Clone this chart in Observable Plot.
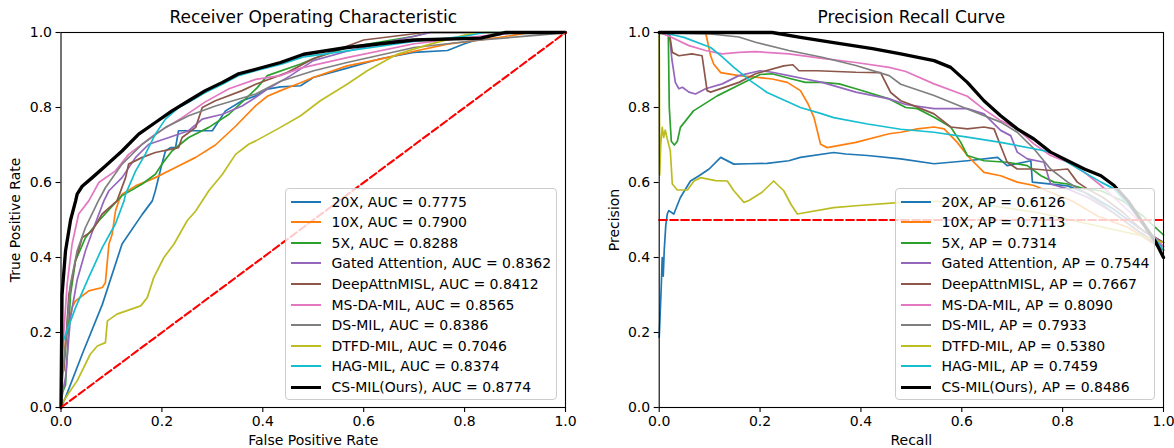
<!DOCTYPE html>
<html>
<head>
<meta charset="utf-8">
<script src="https://cdn.jsdelivr.net/npm/d3@7"></script>
<script src="https://cdn.jsdelivr.net/npm/@observablehq/plot@0.6"></script>
<style>
  html, body { margin: 0; padding: 0; background: #fff; }
  #wrap { position: relative; width: 1174px; height: 448px; font-family: "DejaVu Sans", sans-serif; }
  .panel { position: absolute; top: 0; }
  .legend { position: absolute; background: rgba(255,255,255,0.8); border: 1px solid #cccccc; border-radius: 4px; box-sizing: border-box; }
  .legend .row { position: absolute; left: 0; height: 20px; white-space: nowrap; font-size: 14px; line-height: 20px; color: #000; }
  .legend .sw { position: absolute; top: 10px; width: 30px; }
  .legend .lab { position: absolute; top: 0; }
</style>
</head>
<body>
<div id="wrap">
  <div id="roc" class="panel" style="left:0px"></div>
  <div id="pr" class="panel" style="left:587px"></div>
</div>
<script>
// ---------- data ----------
const methodNames = ["20X", "10X", "5X", "Gated Attention", "DeepAttnMISL", "MS-DA-MIL", "DS-MIL", "DTFD-MIL", "HAG-MIL", "CS-MIL(Ours)"];
const seriesColors = ["#1f77b4", "#ff7f0e", "#2ca02c", "#9467bd", "#8c564b", "#e377c2", "#7f7f7f", "#bcbd22", "#17becf", "#000000"];
const aucValues = [0.7775, 0.7900, 0.8288, 0.8362, 0.8412, 0.8565, 0.8386, 0.7046, 0.8374, 0.8774];
const apValues = [0.6126, 0.7113, 0.7314, 0.7544, 0.7667, 0.8090, 0.7933, 0.5380, 0.7459, 0.8486];
const axisTicks = [0, 0.2, 0.4, 0.6, 0.8, 1.0];

// ROC curves: [FPR, TPR]
const roc20X = [[0,0],[0.009,0.027],[0.042,0.142],[0.082,0.275],[0.121,0.436],[0.161,0.515],[0.181,0.551],[0.187,0.578],[0.2,0.649],[0.207,0.684],[0.217,0.693],[0.227,0.693],[0.233,0.738],[0.30,0.738],[0.326,0.791],[0.359,0.818],[0.386,0.831],[0.409,0.849],[0.435,0.855],[0.475,0.858],[0.50,0.88],[0.567,0.905],[0.633,0.93],[0.699,0.947],[0.766,0.952],[0.80,0.97],[0.846,0.99],[0.90,1.0],[1,1]];
const roc10X = [[0,0],[0.003,0.10],[0.0056,0.107],[0.009,0.18],[0.022,0.267],[0.0287,0.284],[0.055,0.311],[0.082,0.32],[0.088,0.333],[0.095,0.436],[0.1014,0.462],[0.108,0.524],[0.1146,0.551],[0.121,0.569],[0.148,0.591],[0.187,0.613],[0.227,0.64],[0.267,0.667],[0.306,0.70],[0.346,0.75],[0.386,0.805],[0.409,0.83],[0.435,0.845],[0.475,0.866],[0.50,0.88],[0.567,0.911],[0.633,0.929],[0.70,0.95],[0.766,0.969],[0.87,0.987],[0.93,1.0],[1,1]];
const roc5X = [[0,0],[0.003,0.04],[0.009,0.06],[0.0188,0.30],[0.0287,0.391],[0.0485,0.453],[0.075,0.498],[0.111,0.551],[0.121,0.565],[0.161,0.596],[0.187,0.622],[0.2,0.649],[0.22,0.684],[0.253,0.72],[0.293,0.747],[0.333,0.782],[0.372,0.831],[0.389,0.853],[0.409,0.885],[0.475,0.916],[0.50,0.93],[0.567,0.96],[0.70,0.99],[0.73,1.0],[1,1]];
const rocGated = [[0,0],[0.003,0.04],[0.009,0.08],[0.0188,0.24],[0.032,0.34],[0.0485,0.418],[0.065,0.48],[0.085,0.551],[0.095,0.578],[0.121,0.613],[0.148,0.667],[0.174,0.702],[0.214,0.72],[0.253,0.738],[0.28,0.769],[0.32,0.782],[0.359,0.804],[0.386,0.827],[0.409,0.849],[0.455,0.885],[0.50,0.925],[0.567,0.95],[0.633,0.97],[0.733,1.0],[1,1]];
const rocDeep = [[0,0],[0.002,0.093],[0.0056,0.098],[0.009,0.16],[0.0155,0.30],[0.0287,0.391],[0.042,0.453],[0.0618,0.471],[0.0816,0.516],[0.111,0.551],[0.128,0.613],[0.134,0.649],[0.161,0.667],[0.187,0.68],[0.233,0.693],[0.24,0.72],[0.267,0.747],[0.28,0.80],[0.306,0.818],[0.359,0.845],[0.386,0.862],[0.448,0.893],[0.50,0.93],[0.60,0.98],[0.72,1.0],[1,1]];
const rocMSDA = [[0,0],[0.002,0.1],[0.0056,0.2],[0.0122,0.329],[0.022,0.436],[0.035,0.516],[0.055,0.551],[0.075,0.60],[0.108,0.631],[0.134,0.675],[0.187,0.729],[0.24,0.773],[0.286,0.815],[0.333,0.85],[0.386,0.875],[0.435,0.885],[0.475,0.905],[0.567,0.933],[0.70,0.97],[0.83,0.99],[0.9,1.0],[1,1]];
const rocDS = [[0,0],[0.003,0.08],[0.009,0.169],[0.0188,0.329],[0.032,0.418],[0.0485,0.48],[0.074,0.551],[0.088,0.586],[0.121,0.649],[0.161,0.702],[0.207,0.747],[0.253,0.778],[0.306,0.804],[0.386,0.836],[0.435,0.87],[0.501,0.898],[0.567,0.92],[0.70,0.96],[0.832,0.98],[0.964,0.995],[1,1]];
const rocDTFD = [[0,0],[0.002,0.01],[0.016,0.04],[0.032,0.071],[0.058,0.142],[0.072,0.164],[0.088,0.173],[0.092,0.231],[0.111,0.249],[0.158,0.271],[0.171,0.293],[0.184,0.347],[0.204,0.40],[0.224,0.436],[0.25,0.498],[0.267,0.524],[0.293,0.578],[0.32,0.622],[0.346,0.675],[0.372,0.702],[0.386,0.711],[0.435,0.747],[0.475,0.778],[0.514,0.818],[0.567,0.862],[0.607,0.898],[0.666,0.942],[0.732,0.969],[0.80,0.993],[0.83,1.0],[1,1]];
const rocHAG = [[0,0],[0.001,0.125],[0.002,0.169],[0.029,0.267],[0.055,0.347],[0.082,0.427],[0.108,0.49],[0.125,0.551],[0.128,0.569],[0.148,0.631],[0.167,0.675],[0.187,0.729],[0.207,0.769],[0.233,0.80],[0.253,0.814],[0.286,0.84],[0.32,0.862],[0.352,0.885],[0.386,0.898],[0.435,0.915],[0.481,0.935],[0.567,0.951],[0.699,0.976],[0.80,0.99],[0.84,1.0],[1,1]];
const rocCS = [[0,0],[0.001,0.15],[0.002,0.30],[0.009,0.418],[0.019,0.50],[0.029,0.551],[0.032,0.569],[0.042,0.59],[0.062,0.613],[0.088,0.644],[0.121,0.684],[0.154,0.729],[0.187,0.76],[0.22,0.791],[0.253,0.818],[0.286,0.845],[0.32,0.867],[0.352,0.89],[0.386,0.902],[0.435,0.92],[0.481,0.942],[0.567,0.96],[0.699,0.98],[0.832,0.985],[0.871,0.997],[0.88,1],[1,1]];
const rocChance = [[0,0],[1,1]];

// PR curves: [Recall, Precision]
const pr20X = [[0,0.187],[0.004,0.32],[0.006,0.40],[0.008,0.35],[0.01,0.42],[0.013,0.485],[0.016,0.516],[0.019,0.525],[0.029,0.516],[0.042,0.56],[0.062,0.604],[0.079,0.618],[0.099,0.636],[0.122,0.667],[0.148,0.649],[0.178,0.65],[0.214,0.651],[0.257,0.658],[0.28,0.667],[0.346,0.68],[0.37,0.676],[0.413,0.672],[0.479,0.663],[0.545,0.65],[0.611,0.658],[0.671,0.667],[0.69,0.645],[0.737,0.658],[0.74,0.601],[0.81,0.591],[0.85,0.57],[0.9,0.53],[0.95,0.48],[1.0,0.44]];
const pr10X = [[0,1.0],[0.092,1.0],[0.102,0.938],[0.108,0.916],[0.122,0.893],[0.158,0.885],[0.191,0.881],[0.224,0.876],[0.254,0.867],[0.28,0.845],[0.295,0.81],[0.307,0.773],[0.32,0.702],[0.333,0.693],[0.39,0.707],[0.456,0.73],[0.479,0.734],[0.512,0.743],[0.545,0.748],[0.565,0.743],[0.591,0.707],[0.611,0.672],[0.644,0.627],[0.677,0.618],[0.71,0.601],[0.743,0.592],[0.776,0.574],[0.82,0.55],[0.87,0.51],[0.93,0.48],[1.0,0.42]];
const pr5X = [[0,1.0],[0.018,1.0],[0.02,0.80],[0.024,0.71],[0.03,0.70],[0.036,0.71],[0.042,0.747],[0.068,0.791],[0.115,0.831],[0.161,0.862],[0.2,0.888],[0.224,0.89],[0.257,0.878],[0.29,0.867],[0.323,0.867],[0.357,0.863],[0.39,0.85],[0.456,0.823],[0.489,0.8],[0.512,0.797],[0.545,0.774],[0.578,0.748],[0.598,0.707],[0.611,0.672],[0.644,0.658],[0.69,0.654],[0.73,0.645],[0.757,0.618],[0.783,0.601],[0.81,0.596],[0.843,0.583],[0.876,0.578],[0.92,0.55],[0.96,0.51],[1.0,0.46]];
const prGated = [[0,1.0],[0.02,1.0],[0.025,0.93],[0.032,0.867],[0.039,0.85],[0.046,0.854],[0.059,0.841],[0.072,0.836],[0.092,0.85],[0.125,0.863],[0.158,0.885],[0.2,0.898],[0.224,0.894],[0.257,0.885],[0.29,0.876],[0.323,0.867],[0.39,0.841],[0.456,0.823],[0.489,0.808],[0.545,0.797],[0.611,0.797],[0.644,0.783],[0.677,0.739],[0.697,0.725],[0.71,0.681],[0.73,0.663],[0.763,0.654],[0.776,0.596],[0.81,0.583],[0.85,0.56],[0.9,0.52],[0.95,0.47],[1.0,0.43]];
const prDeep = [[0,1.0],[0.02,1.0],[0.026,0.947],[0.039,0.938],[0.065,0.943],[0.085,0.938],[0.095,0.845],[0.102,0.841],[0.158,0.867],[0.191,0.89],[0.247,0.911],[0.265,0.914],[0.277,0.898],[0.313,0.898],[0.39,0.894],[0.439,0.893],[0.459,0.84],[0.479,0.818],[0.512,0.801],[0.545,0.783],[0.578,0.748],[0.611,0.743],[0.644,0.748],[0.664,0.743],[0.677,0.698],[0.69,0.654],[0.71,0.636],[0.743,0.636],[0.776,0.632],[0.81,0.636],[0.829,0.601],[0.849,0.583],[0.88,0.56],[0.92,0.52],[0.96,0.47],[1.0,0.44]];
const prMSDA = [[0,1.0],[0.02,0.99],[0.059,0.965],[0.092,0.952],[0.125,0.943],[0.158,0.947],[0.191,0.949],[0.257,0.943],[0.323,0.931],[0.39,0.92],[0.456,0.907],[0.489,0.896],[0.545,0.863],[0.611,0.83],[0.644,0.795],[0.677,0.765],[0.71,0.743],[0.743,0.703],[0.776,0.672],[0.81,0.654],[0.843,0.627],[0.876,0.592],[0.91,0.55],[0.95,0.5],[1.0,0.43]];
const prDS = [[0,1.0],[0.102,0.996],[0.158,0.988],[0.191,0.974],[0.257,0.952],[0.323,0.934],[0.39,0.912],[0.456,0.885],[0.479,0.862],[0.545,0.832],[0.611,0.796],[0.677,0.761],[0.71,0.734],[0.743,0.69],[0.776,0.636],[0.81,0.601],[0.843,0.574],[0.88,0.54],[0.92,0.5],[0.96,0.46],[1.0,0.42]];
const prDTFD = [[0,1.0],[0.001,0.62],[0.003,0.70],[0.006,0.747],[0.009,0.72],[0.012,0.74],[0.016,0.716],[0.022,0.685],[0.026,0.596],[0.036,0.58],[0.056,0.58],[0.069,0.604],[0.082,0.613],[0.112,0.605],[0.135,0.604],[0.148,0.578],[0.168,0.547],[0.178,0.552],[0.204,0.574],[0.227,0.604],[0.247,0.578],[0.262,0.54],[0.274,0.516],[0.346,0.533],[0.39,0.538],[0.479,0.547],[0.55,0.55],[0.65,0.54],[0.75,0.52],[0.85,0.49],[0.95,0.46],[1.0,0.44]];
const prHAG = [[0,1.0],[0.005,1.0],[0.033,0.992],[0.049,0.987],[0.102,0.96],[0.125,0.935],[0.148,0.907],[0.181,0.871],[0.214,0.84],[0.257,0.814],[0.28,0.80],[0.323,0.783],[0.346,0.773],[0.413,0.756],[0.479,0.742],[0.545,0.734],[0.611,0.721],[0.677,0.707],[0.743,0.69],[0.776,0.681],[0.81,0.654],[0.843,0.627],[0.876,0.601],[0.902,0.583],[0.93,0.54],[0.96,0.49],[1.0,0.42]];
const prCS = [[0,1.0],[0.224,1.0],[0.28,0.987],[0.346,0.973],[0.423,0.957],[0.479,0.943],[0.545,0.925],[0.578,0.907],[0.611,0.867],[0.644,0.818],[0.677,0.778],[0.71,0.743],[0.743,0.716],[0.776,0.681],[0.81,0.658],[0.843,0.636],[0.876,0.618],[0.902,0.592],[0.93,0.55],[0.96,0.49],[0.985,0.44],[1.0,0.40]];
const prChance = [[0,0.5],[1,0.5]];

const rocCurves = [roc20X, roc10X, roc5X, rocGated, rocDeep, rocMSDA, rocDS, rocDTFD, rocHAG, rocCS];
const prCurves = [pr20X, pr10X, pr5X, prGated, prDeep, prMSDA, prDS, prDTFD, prHAG, prCS];

// ---------- drawing ----------
const thin = 1.7, thick = 3.3;

function makePanel(curves, chance, opts) {
  const marks = [];
  curves.forEach((pts, i) => {
    marks.push(Plot.line(pts, {x: d => d[0], y: d => d[1], stroke: seriesColors[i], strokeWidth: i === curves.length - 1 ? thick : thin}));
  });
  marks.push(Plot.line(chance, {x: d => d[0], y: d => d[1], stroke: "red", strokeWidth: 2.1, strokeDasharray: "7.7,3.3"}));
  marks.push(Plot.frame({stroke: "black", strokeWidth: 1.1}));
  marks.push(Plot.axisX({ticks: axisTicks, tickFormat: d3.format(".1f"), tickSize: 5, tickPadding: 4, label: null, strokeWidth: 1.1}));
  marks.push(Plot.axisY({ticks: axisTicks, tickFormat: d3.format(".1f"), tickSize: 5, tickPadding: 4, label: null, strokeWidth: 1.1}));
  marks.push(Plot.text([opts.title], {text: d => d, frameAnchor: "top", dy: -15, lineAnchor: "middle", fontSize: 17}));
  marks.push(Plot.text([opts.xLabel], {text: d => d, frameAnchor: "bottom", dy: 33, lineAnchor: "middle", fontSize: 14}));
  marks.push(Plot.text([opts.yLabel], {text: d => d, frameAnchor: "left", dx: -45, rotate: -90, lineAnchor: "middle", textAnchor: "middle", fontSize: 14}));
  return Plot.plot({
    width: 587,
    height: 448,
    marginLeft: opts.marginLeft,
    marginRight: opts.marginRight,
    marginTop: 32,
    marginBottom: 41,
    x: {domain: [0, 1]},
    y: {domain: [0, 1]},
    style: {fontFamily: "'DejaVu Sans', sans-serif", fontSize: "14px", background: "white", color: "black", overflow: "visible"},
    marks
  });
}

document.getElementById("roc").appendChild(makePanel(rocCurves, rocChance, {
  title: "Receiver Operating Characteristic", xLabel: "False Positive Rate", yLabel: "True Positive Rate",
  marginLeft: 60.5, marginRight: 22
}));
document.getElementById("pr").appendChild(makePanel(prCurves, prChance, {
  title: "Precision Recall Curve", xLabel: "Recall", yLabel: "Precision",
  marginLeft: 71.7, marginRight: 11
}));

function makeLegend(left, top, width, height, labels) {
  const box = document.createElement("div");
  box.className = "legend";
  Object.assign(box.style, {left: left + "px", top: top + "px", width: width + "px", height: height + "px"});
  labels.forEach((lab, i) => {
    const row = document.createElement("div");
    row.className = "row";
    row.style.top = Math.round(2.7 + i * 20.56) + "px";
    row.style.width = width + "px";
    const sw = document.createElement("div");
    sw.className = "sw";
    const w = i === labels.length - 1 ? 3 : 2;
    Object.assign(sw.style, {left: "5px", height: w + "px", top: (10 - Math.floor(w / 2)) + "px", background: seriesColors[i]});
    const t = document.createElement("div");
    t.className = "lab";
    t.style.left = "45.5px";
    t.textContent = lab;
    row.appendChild(sw);
    row.appendChild(t);
    box.appendChild(row);
  });
  document.getElementById("wrap").appendChild(box);
}

makeLegend(285, 188, 272, 212, methodNames.map((n, i) => `${n}, AUC = ${aucValues[i].toFixed(4)}`));
makeLegend(895, 188, 260, 212, methodNames.map((n, i) => `${n}, AP = ${apValues[i].toFixed(4)}`));
</script>
</body>
</html>
